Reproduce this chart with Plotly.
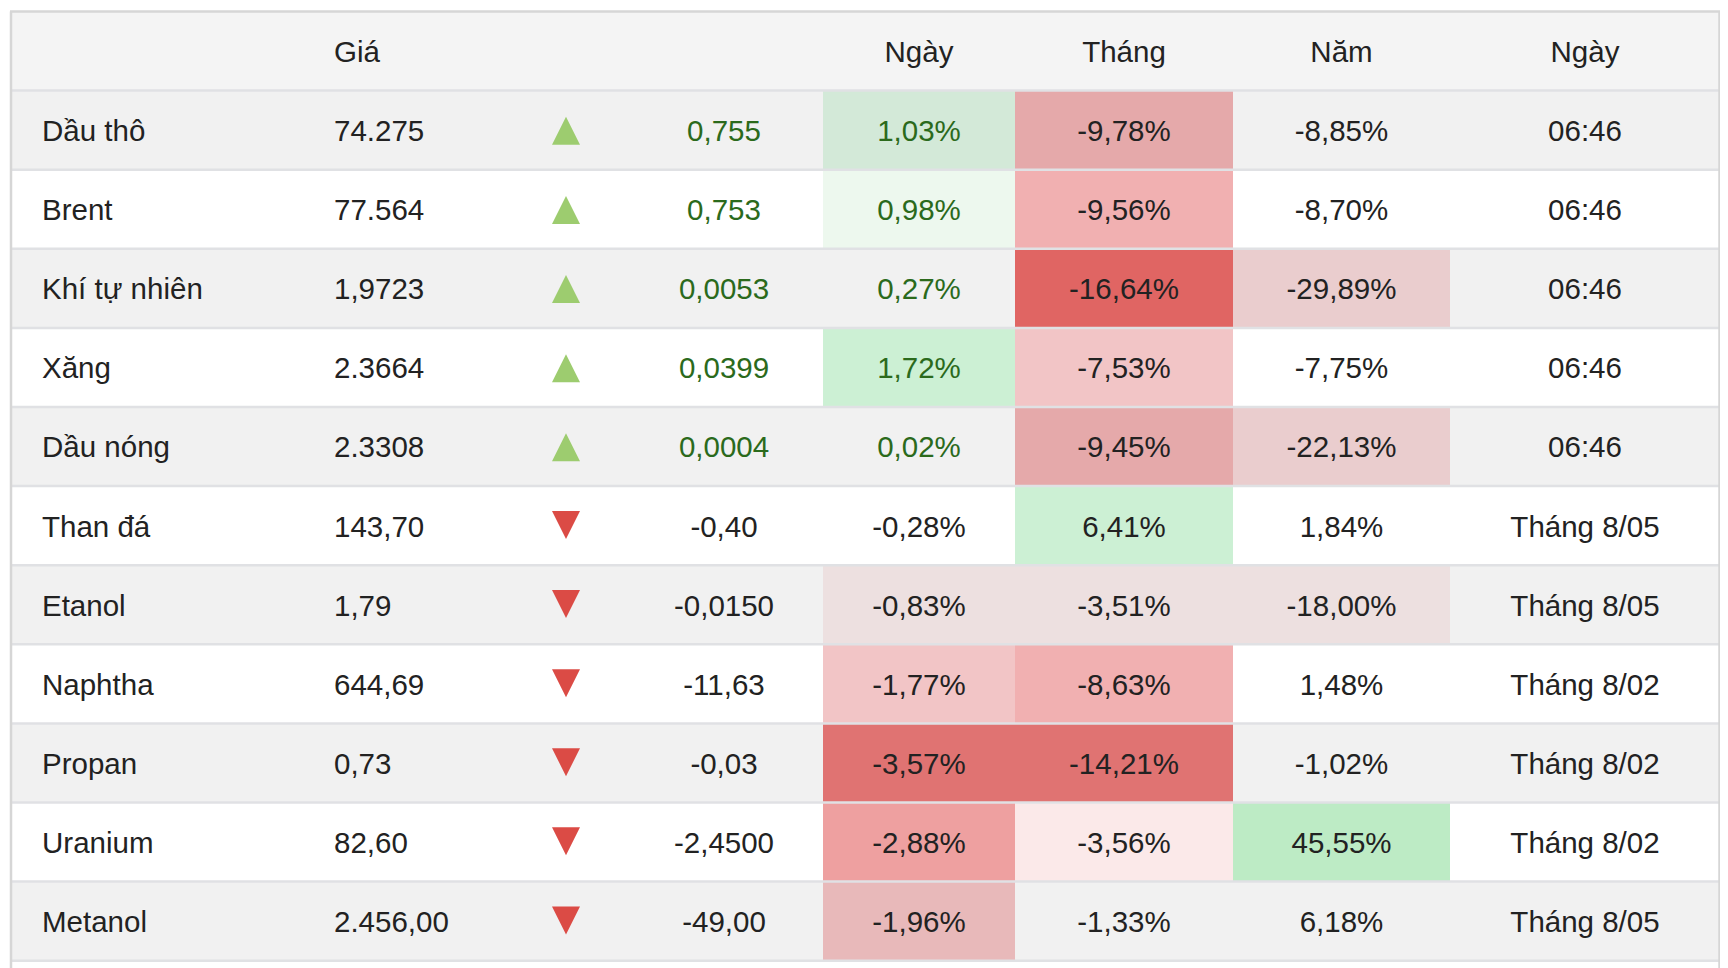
import plotly.graph_objects as go

# ---------------- data ----------------
headers = ["", "Giá", "", "", "Ngày", "Tháng", "Năm", "Ngày"]
names = ["Dầu thô", "Brent", "Khí tự nhiên", "Xăng", "Dầu nóng", "Than đá",
         "Etanol", "Naphtha", "Propan", "Uranium", "Metanol"]
prices = ["74.275", "77.564", "1,9723", "2.3664", "2.3308", "143,70",
          "1,79", "644,69", "0,73", "82,60", "2.456,00"]
changes = ["0,755", "0,753", "0,0053", "0,0399", "0,0004", "-0,40",
           "-0,0150", "-11,63", "-0,03", "-2,4500", "-49,00"]
day_pct = ["1,03%", "0,98%", "0,27%", "1,72%", "0,02%", "-0,28%",
           "-0,83%", "-1,77%", "-3,57%", "-2,88%", "-1,96%"]
month_pct = ["-9,78%", "-9,56%", "-16,64%", "-7,53%", "-9,45%", "6,41%",
             "-3,51%", "-8,63%", "-14,21%", "-3,56%", "-1,33%"]
year_pct = ["-8,85%", "-8,70%", "-29,89%", "-7,75%", "-22,13%", "1,84%",
            "-18,00%", "1,48%", "-1,02%", "45,55%", "6,18%"]
times = ["06:46", "06:46", "06:46", "06:46", "06:46", "Tháng 8/05",
         "Tháng 8/05", "Tháng 8/02", "Tháng 8/02", "Tháng 8/02", "Tháng 8/05"]

# heat-map style cell highlights (None = no highlight)
day_fill = ["#d3e9d8", "#edf8ee", None, "#ccf0d4", None, None,
            "#ede0e0", "#f2c5c6", "#e07372", "#eea0a0", "#e8b9ba"]
month_fill = ["#e5a9aa", "#f1b0b1", "#e06563", "#f2c5c6", "#e5a9aa", "#ccf0d4",
              "#ede0e0", "#f1b0b1", "#e07372", "#fbe9e9", None]
year_fill = [None, None, "#eacdce", None, "#eacdce", None,
             "#ede0e0", None, None, "#bdebc5", None]

# ---------------- styling / layout constants ----------------
PAGE_W, PAGE_H = 1728, 968
BODY = 8                      # default page margin around the plot div
W, H = PAGE_W - BODY, PAGE_H - BODY
LEFT, RIGHT = 10, 1720.5
TOP_PX, ROW_PX = 11.5, 79.1
FONT = "Liberation Sans, Arial, Helvetica, sans-serif"
FS = 29.5
TXT = "#222222"
GREEN_TXT = "#2b6a1c"
UP_CLR = "#9dcc6f"
DOWN_CLR = "#db4b45"
GRID = "#e0e1e4"
BORDER = "#d6d6d6"
HEADER_BG = "#f4f4f4"
STRIPE_BG = "#f1f1f1"
ARROW_SIZE = 28
TEXT_DY = 3.5 / ROW_PX        # baseline nudge so text sits like the browser table

# column x positions (page pixels)
X_NAME = 42
X_PRICE = 334
X_ARROW = 566
X_CHANGE = 724
PCT_BOUNDS = [823, 1015, 1233, 1450]
X_TIME = 1585

n = len(names)
rows = list(range(n))
text_rows = [r + TEXT_DY for r in rows]
y_top = -1.5 + (BODY - TOP_PX) / ROW_PX
y_bot = -1.5 + (PAGE_H - TOP_PX) / ROW_PX

up = [not c.startswith("-") for c in changes]

fig = go.Figure()

shapes = []
shapes.append(dict(type="rect", xref="x", yref="y", x0=LEFT, x1=RIGHT, y0=-1.5, y1=-0.5,
                   fillcolor=HEADER_BG, line=dict(width=0), layer="below"))
for i in rows:
    if i % 2 == 0:
        shapes.append(dict(type="rect", xref="x", yref="y", x0=LEFT, x1=RIGHT,
                           y0=i - 0.5, y1=i + 0.5, fillcolor=STRIPE_BG,
                           line=dict(width=0), layer="below"))
for col, fills in enumerate([day_fill, month_fill, year_fill]):
    for i, f in enumerate(fills):
        if f:
            shapes.append(dict(type="rect", xref="x", yref="y",
                               x0=PCT_BOUNDS[col], x1=PCT_BOUNDS[col + 1],
                               y0=i - 0.5, y1=i + 0.5, fillcolor=f,
                               line=dict(width=0), layer="below"))
# row separators
for b in range(0, n + 1):
    shapes.append(dict(type="line", xref="x", yref="y", x0=LEFT, x1=RIGHT,
                       y0=b - 0.5, y1=b - 0.5, line=dict(color=GRID, width=2.5)))
# outer borders
shapes.append(dict(type="line", xref="x", yref="y", x0=LEFT, x1=RIGHT, y0=-1.5, y1=-1.5,
                   line=dict(color=BORDER, width=2.5)))
shapes.append(dict(type="line", xref="x", yref="y", x0=LEFT + 1, x1=LEFT + 1, y0=-1.5, y1=y_bot,
                   line=dict(color=BORDER, width=2.5)))
shapes.append(dict(type="line", xref="x", yref="y", x0=RIGHT - 1, x1=RIGHT - 1, y0=-1.5, y1=y_bot,
                   line=dict(color=BORDER, width=2.5)))


def text_trace(x, y, text, color, pos="middle center"):
    return go.Scatter(x=x, y=y, text=text, mode="text", textposition=pos,
                      textfont=dict(family=FONT, size=FS, color=color),
                      hoverinfo="skip", showlegend=False)


hdr_x = [X_NAME, X_PRICE, X_ARROW, X_CHANGE,
         (PCT_BOUNDS[0] + PCT_BOUNDS[1]) / 2,
         (PCT_BOUNDS[1] + PCT_BOUNDS[2]) / 2,
         (PCT_BOUNDS[2] + PCT_BOUNDS[3]) / 2, X_TIME]
hdr_y = -1 + TEXT_DY
fig.add_trace(text_trace([hdr_x[1]], [hdr_y], [headers[1]], TXT, "middle right"))
fig.add_trace(text_trace(hdr_x[4:], [hdr_y] * 4, headers[4:], TXT))

fig.add_trace(text_trace([X_NAME] * n, text_rows, names, TXT, "middle right"))
fig.add_trace(text_trace([X_PRICE] * n, text_rows, prices, TXT, "middle right"))
fig.add_trace(text_trace([X_CHANGE] * n, text_rows, changes,
                         [GREEN_TXT if u else TXT for u in up]))
fig.add_trace(text_trace([hdr_x[4]] * n, text_rows, day_pct,
                         [GREEN_TXT if u else TXT for u in up]))
fig.add_trace(text_trace([hdr_x[5]] * n, text_rows, month_pct, TXT))
fig.add_trace(text_trace([hdr_x[6]] * n, text_rows, year_pct, TXT))
fig.add_trace(text_trace([X_TIME] * n, text_rows, times, TXT))

# direction arrows: 'arrow' symbols have their tip on the point, so shift the
# anchor by half the symbol height to centre them in the row
half = (ARROW_SIZE * 0.5) / ROW_PX
arrow_y = [r - half * 0.95 if u else r + half * 0.95 for r, u in zip(rows, up)]
fig.add_trace(go.Scatter(
    x=[X_ARROW] * n, y=arrow_y, mode="markers", hoverinfo="skip", showlegend=False,
    marker=dict(symbol=["arrow-up" if u else "arrow-down" for u in up],
                size=ARROW_SIZE, color=[UP_CLR if u else DOWN_CLR for u in up],
                line=dict(width=0))))

fig.update_layout(
    width=W, height=H,
    margin=dict(l=0, r=0, t=0, b=0),
    paper_bgcolor="white", plot_bgcolor="white",
    shapes=shapes,
    xaxis=dict(range=[BODY, BODY + W], visible=False, fixedrange=True),
    yaxis=dict(range=[y_bot, y_top], visible=False, fixedrange=True),
)

fig.write_html("out.html", config={"displayModeBar": False})
